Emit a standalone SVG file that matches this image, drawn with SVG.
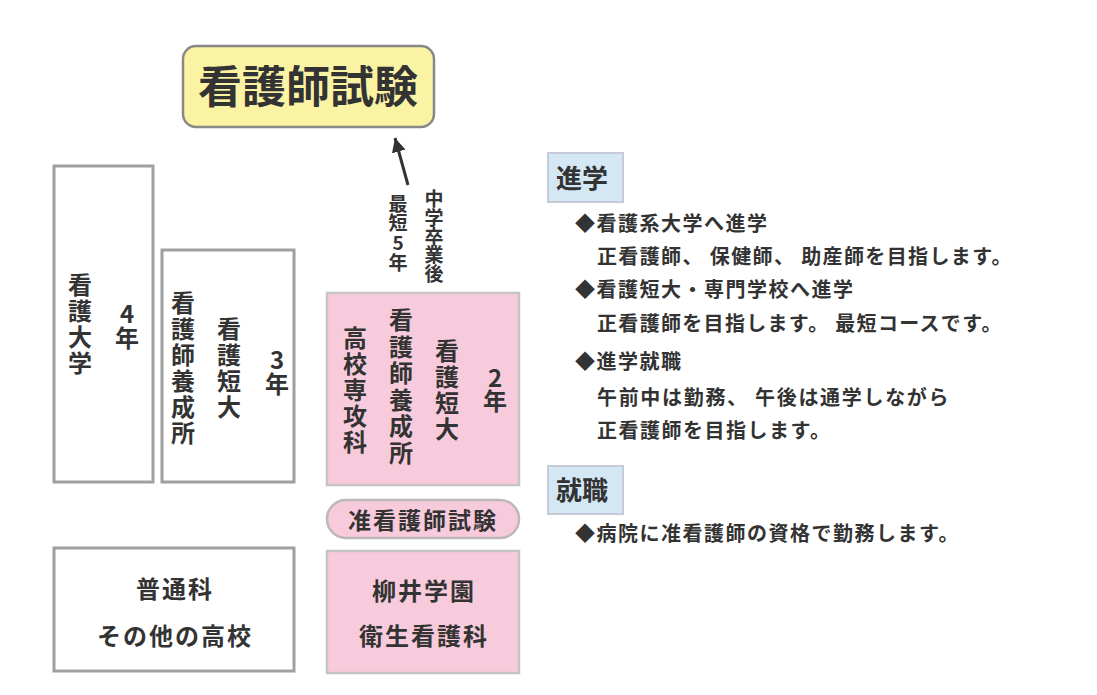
<svg xmlns="http://www.w3.org/2000/svg" width="1097" height="695" viewBox="0 0 1097 695">
<style>
text{font-family:"Noto Sans CJK JP","Noto Sans CJK SC",sans-serif;fill:#333;}
.box{fill:#fff;stroke:#a0a0a0;stroke-width:3;}
.pink{fill:#f7cbdb;stroke:#c8c4c6;stroke-width:2.5;}
.head{fill:#d3e7f5;stroke:#c8cad8;stroke-width:2;}
.v{font-size:24px;font-weight:bold;text-anchor:middle;}
.vs{font-size:19px;font-weight:bold;text-anchor:middle;}
.h{font-size:24px;font-weight:bold;text-anchor:middle;letter-spacing:2px;}
.t{font-size:20px;font-weight:bold;letter-spacing:1.5px;}
.hd{font-size:26px;font-weight:bold;}
</style>
<defs>
<marker id="ah" viewBox="0 0 10 10" refX="10" refY="5" markerWidth="14" markerHeight="14" markerUnits="userSpaceOnUse" orient="auto">
<path d="M0,0 L10,5 L0,10 z" fill="#333"/>
</marker>
</defs>
<rect width="1097" height="695" fill="#fff"/>

<g id="connectors">
<line x1="408" y1="185" x2="395" y2="138" stroke="#333" stroke-width="3" marker-end="url(#ah)"/>
</g>

<g id="title">
<rect x="183" y="46" width="251" height="81" rx="13" fill="#fbf3a4" stroke="#888" stroke-width="2.5"/>
<text x="308" y="103" style="font-size:44px;font-weight:bold;text-anchor:middle;">看護師試験</text>
</g>

<g id="label-route">
<text class="vs"><tspan x="434" y="206">中</tspan><tspan x="434" y="225">学</tspan><tspan x="434" y="244">卒</tspan><tspan x="434" y="262">業</tspan><tspan x="434" y="281">後</tspan></text>
<text class="vs"><tspan x="398" y="211">最</tspan><tspan x="398" y="230">短</tspan><tspan x="398" y="250">5</tspan><tspan x="398" y="270">年</tspan></text>
</g>

<g id="univ">
<rect class="box" x="54" y="166" width="99" height="316"/>
<text class="v"><tspan x="80" y="294">看</tspan><tspan x="80" y="320">護</tspan><tspan x="80" y="346">大</tspan><tspan x="80" y="372">学</tspan></text>
<text class="v"><tspan x="127" y="323">4</tspan><tspan x="127" y="347">年</tspan></text>
</g>

<g id="three-year">
<rect class="box" x="162" y="250" width="132" height="232"/>
<text class="v"><tspan x="183" y="312">看</tspan><tspan x="183" y="338">護</tspan><tspan x="183" y="364">師</tspan><tspan x="183" y="390">養</tspan><tspan x="183" y="416">成</tspan><tspan x="183" y="442">所</tspan></text>
<text class="v"><tspan x="229" y="338">看</tspan><tspan x="229" y="364">護</tspan><tspan x="229" y="390">短</tspan><tspan x="229" y="416">大</tspan></text>
<text class="v"><tspan x="277" y="369">3</tspan><tspan x="277" y="393">年</tspan></text>
</g>

<g id="two-year">
<rect class="pink" x="327" y="293" width="192" height="192"/>
<text class="v"><tspan x="355" y="347">高</tspan><tspan x="355" y="373">校</tspan><tspan x="355" y="399">専</tspan><tspan x="355" y="425">攻</tspan><tspan x="355" y="451">科</tspan></text>
<text class="v"><tspan x="401" y="329">看</tspan><tspan x="401" y="355.5">護</tspan><tspan x="401" y="382">師</tspan><tspan x="401" y="408.5">養</tspan><tspan x="401" y="435">成</tspan><tspan x="401" y="461.5">所</tspan></text>
<text class="v"><tspan x="447" y="360">看</tspan><tspan x="447" y="386">護</tspan><tspan x="447" y="412">短</tspan><tspan x="447" y="438">大</tspan></text>
<text class="v"><tspan x="495" y="387">2</tspan><tspan x="495" y="410">年</tspan></text>
</g>

<g id="exam-pn">
<rect x="327" y="500" width="192" height="38" rx="19" fill="#f7cbdb" stroke="#bdb8ba" stroke-width="2.5"/>
<text x="423" y="529" style="font-size:23px;font-weight:bold;text-anchor:middle;letter-spacing:2px;">准看護師試験</text>
</g>

<g id="highschool">
<rect class="box" x="54" y="548" width="240" height="123"/>
<text class="h" x="175" y="598">普通科</text>
<text class="h" x="175" y="645">その他の高校</text>
</g>

<g id="yanai">
<rect class="pink" x="327" y="551" width="192" height="122"/>
<text class="h" x="424" y="600">柳井学園</text>
<text class="h" x="424" y="645">衛生看護科</text>
</g>

<g id="shingaku">
<rect class="head" x="548" y="153" width="75" height="49"/>
<text class="hd" x="556" y="188">進学</text>
<text class="t" x="575" y="231">◆看護系大学へ進学</text>
<text class="t" x="597" y="264" textLength="416" lengthAdjust="spacing">正看護師、 保健師、 助産師を目指します。</text>
<text class="t" x="575" y="297">◆看護短大・専門学校へ進学</text>
<text class="t" x="597" y="331" textLength="406" lengthAdjust="spacing">正看護師を目指します。 最短コースです。</text>
<text class="t" x="575" y="369">◆進学就職</text>
<text class="t" x="597" y="405" textLength="353" lengthAdjust="spacing">午前中は勤務、 午後は通学しながら</text>
<text class="t" x="597" y="438">正看護師を目指します。</text>
</g>

<g id="shushoku">
<rect class="head" x="548" y="466" width="75" height="48"/>
<text class="hd" x="556" y="500">就職</text>
<text class="t" x="575" y="541">◆病院に准看護師の資格で勤務します。</text>
</g>
</svg>
